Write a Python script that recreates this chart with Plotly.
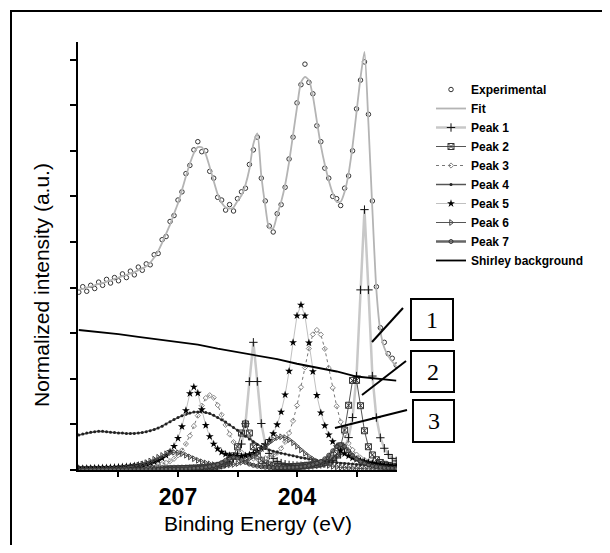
import plotly.graph_objects as go

# Binding-energy grid (eV), high -> low
be = [209.5, 209.4, 209.3, 209.2, 209.1, 209.0, 208.9, 208.8, 208.7, 208.6,
      208.5, 208.4, 208.3, 208.2, 208.1, 208.0, 207.9, 207.8, 207.7, 207.6,
      207.5, 207.4, 207.3, 207.2, 207.1, 207.0, 206.9, 206.8, 206.7, 206.6,
      206.5, 206.4, 206.3, 206.2, 206.1, 206.0, 205.9, 205.8, 205.7, 205.6,
      205.5, 205.4, 205.3, 205.2, 205.1, 205.0, 204.9, 204.8, 204.7, 204.6,
      204.5, 204.4, 204.3, 204.2, 204.1, 204.0, 203.9, 203.8, 203.7, 203.6,
      203.5, 203.4, 203.3, 203.2, 203.1, 203.0, 202.9, 202.8, 202.7, 202.6,
      202.5, 202.4, 202.3, 202.2, 202.1, 202.0, 201.9, 201.8, 201.7, 201.6,
      201.5]

experimental = [3.90, 4.02, 3.92, 4.05, 3.98, 4.12, 4.05, 4.18, 4.10, 4.22,
                4.15, 4.30, 4.22, 4.36, 4.28, 4.45, 4.38, 4.52, 4.50, 4.72,
                4.75, 5.05, 5.12, 5.45, 5.58, 5.92, 6.10, 6.50, 6.68, 7.02,
                7.20, 6.98, 7.00, 6.55, 6.40, 5.98, 5.92, 5.70, 5.82, 5.68,
                5.95, 6.10, 6.18, 6.70, 7.02, 7.30, 6.40, 5.90, 5.35, 5.22,
                5.62, 5.82, 6.20, 6.82, 7.30, 8.05, 8.45, 8.90, 8.50, 8.25,
                7.55, 7.20, 6.62, 6.40, 6.00, 5.95, 5.80, 6.18, 6.45, 7.00,
                7.92, 8.55, 8.95, 7.80, 5.90, 4.02, 3.12, 2.80, 2.55, 2.45,
                2.30]

fit = [3.95, 3.97, 4.00, 4.02, 4.05, 4.08, 4.10, 4.13, 4.16, 4.19,
       4.22, 4.25, 4.28, 4.31, 4.34, 4.38, 4.42, 4.47, 4.55, 4.66,
       4.80, 4.98, 5.18, 5.38, 5.62, 5.85, 6.14, 6.44, 6.72, 6.95,
       7.08, 7.08, 6.92, 6.64, 6.34, 6.05, 5.86, 5.76, 5.73, 5.76,
       5.90, 6.02, 6.25, 6.60, 7.15, 7.38, 6.45, 5.80, 5.30, 5.30,
       5.60, 5.88, 6.25, 6.75, 7.35, 7.95, 8.50, 8.62, 8.55, 8.20,
       7.65, 7.12, 6.70, 6.35, 6.07, 5.88, 5.88, 6.10, 6.50, 7.10,
       7.85, 8.60, 9.17, 7.60, 5.70, 3.95, 3.05, 2.68, 2.50, 2.38,
       2.28]

peak1 = [.006, .006, .006, .007, .007, .007, .007, .008, .008, .008,
         .008, .009, .009, .010, .010, .011, .012, .013, .014, .015,
         .016, .017, .019, .020, .021, .023, .025, .028, .031, .035,
         .039, .044, .051, .059, .070, .084, .105, .132, .174, .242,
         .355, .569, 1.014, 1.94, 2.80, 1.94, 1.02, .577, .364, .254,
         .189, .151, .126, .110, .100, .095, .093, .092, .095, .102,
         .112, .125, .144, .171, .21, .264, .348, .483, .711, 1.15,
         2.06, 3.95, 5.71, 3.95, 2.06, 1.15, .707, .477, .341, .255,
         .199]

peak2 = [.007, .007, .007, .008, .008, .008, .009, .009, .009, .010,
         .010, .011, .011, .012, .012, .013, .014, .015, .016, .017,
         .018, .020, .022, .024, .025, .027, .030, .033, .037, .040,
         .043, .048, .054, .062, .070, .090, .11, .15, .21, .31,
         .51, .81, 1.01, .81, .51, .31, .21, .15, .11, .09,
         .08, .075, .07, .07, .075, .08, .085, .095, .105, .115,
         .125, .14, .165, .20, .26, .355, .53, .875, 1.42, 1.965,
         1.965, 1.41, .86, .51, .33, .225, .165, .125, .10, .082,
         .068]

peak3 = [.025, .026, .027, .029, .030, .032, .034, .036, .039, .041,
         .044, .047, .051, .055, .060, .065, .071, .078, .087, .099,
         .113, .131, .156, .193, .246, .323, .429, .571, .751, .963,
         1.192, 1.411, 1.578, 1.640, 1.585, 1.424, 1.211, .989, .784, .613,
         .479, .384, .316, .274, .251, .242, .247, .258, .281, .319,
         .380, .476, .616, .811, 1.078, 1.415, 1.815, 2.248, 2.663, 2.974,
         3.07, 2.971, 2.657, 2.238, 1.801, 1.398, 1.056, .785, .585, .44,
         .337, .269, .223, .188, .164, .141, .126, .113, .102, .094,
         .085]

peak4 = [.77, .79, .81, .83, .84, .85, .85, .84, .83, .82,
         .81, .81, .80, .80, .80, .81, .82, .84, .86, .89,
         .92, .96, 1.01, 1.06, 1.11, 1.15, 1.19, 1.22, 1.25, 1.27,
         1.27, 1.27, 1.26, 1.24, 1.20, 1.15, 1.10, 1.05, .99, .93,
         .87, .81, .74, .68, .62, .56, .51, .47, .44, .41,
         .39, .37, .35, .33, .31, .29, .27, .26, .24, .23,
         .21, .20, .19, .18, .17, .16, .15, .14, .135, .13,
         .12, .115, .11, .105, .10, .095, .09, .085, .08, .075,
         .07]

peak5 = [.034, .036, .038, .041, .043, .046, .049, .052, .056, .061,
         .066, .072, .078, .086, .095, .107, .120, .137, .157, .183,
         .216, .26, .319, .403, .521, .696, .951, 1.304, 1.678, 1.82,
         1.688, 1.323, .98, .735, .571, .464, .393, .348, .319, .304,
         .299, .303, .316, .337, .368, .411, .469, .548, .654, .797,
         .994, 1.273, 1.65, 2.168, 2.796, 3.384, 3.62, 3.38, 2.789, 2.158,
         1.637, 1.256, .973, .771, .623, .511, .426, .361, .309, .268,
         .235, .206, .183, .164, .147, .134, .121, .111, .101, .093,
         .086]

peak6 = [.016, .017, .018, .020, .021, .023, .025, .028, .031, .035,
         .041, .048, .057, .069, .086, .106, .132, .162, .198, .237,
         .279, .319, .355, .379, .389, .379, .357, .324, .287, .248,
         .212, .180, .154, .133, .117, .107, .102, .104, .110, .122,
         .141, .169, .205, .252, .307, .374, .448, .526, .601, .667,
         .712, .728, .711, .664, .597, .52, .44, .366, .297, .24,
         .19, .152, .121, .098, .08, .067, .057, .05, .044, .039,
         .035, .032, .029, .027, .025, .023, .021, .020, .018, .017,
         .016]

peak7 = [.004, .004, .004, .005, .005, .005, .005, .005, .006, .006,
         .006, .007, .007, .007, .008, .008, .009, .009, .010, .011,
         .012, .013, .015, .016, .018, .020, .022, .025, .029, .034,
         .040, .049, .060, .075, .095, .124, .163, .212, .258, .279,
         .26, .214, .167, .13, .103, .084, .071, .061, .055, .052,
         .050, .050, .050, .054, .057, .063, .071, .082, .098, .118,
         .147, .188, .245, .323, .42, .514, .554, .513, .419, .32,
         .243, .184, .143, .113, .091, .075, .062, .053, .045, .040,
         .035]

shirley_be = [209.5, 209.0, 208.5, 208.0, 207.5, 207.0, 206.5, 206.0, 205.5,
              205.0, 204.5, 204.0, 203.5, 203.0, 202.5, 202.0, 201.5]
shirley = [3.07, 3.03, 2.98, 2.92, 2.86, 2.80, 2.75, 2.66, 2.58,
           2.50, 2.43, 2.33, 2.25, 2.16, 2.05, 2.00, 1.96]

x_tickvals = [208.5, 207, 205.5, 204, 202.5]
x_ticktext = ["", "207", "", "204", ""]
y_tickvals = [0, 1, 2, 3, 4, 5, 6, 7, 8, 9]

SANS = "Liberation Sans, Arial, sans-serif"
SERIF = "Liberation Serif, Times New Roman, serif"

fig = go.Figure()

fig.add_trace(go.Scatter(x=be, y=experimental, name="Experimental", mode="markers",
                         marker=dict(symbol="circle-open", size=4.5, color="#333333",
                                     line=dict(width=1))))
fig.add_trace(go.Scatter(x=be, y=fit, name="Fit", mode="lines",
                         line=dict(color="#b4b4b4", width=1.8, shape="spline", smoothing=0.6)))
fig.add_trace(go.Scatter(x=be, y=peak1, name="Peak 1", mode="lines+markers",
                         line=dict(color="#c8c8c8", width=2.5),
                         marker=dict(symbol="cross-thin-open", size=6, color="#111111",
                                     line=dict(width=1, color="#111111"))))
fig.add_trace(go.Scatter(x=be, y=peak2, name="Peak 2", mode="lines+markers",
                         line=dict(color="#555555", width=1),
                         marker=dict(symbol="square-x-open", size=6, color="#333333",
                                     line=dict(width=1, color="#333333"))))
fig.add_trace(go.Scatter(x=be, y=peak3, name="Peak 3", mode="lines+markers",
                         line=dict(color="#777777", width=1, dash="dot"),
                         marker=dict(symbol="diamond-open", size=4, color="#888888",
                                     line=dict(width=1, color="#888888"))))
fig.add_trace(go.Scatter(x=be, y=peak4, name="Peak 4", mode="lines+markers",
                         line=dict(color="#555555", width=1.5),
                         marker=dict(symbol="circle", size=3, color="#222222")))
fig.add_trace(go.Scatter(x=be, y=peak5, name="Peak 5", mode="lines+markers",
                         line=dict(color="#c0c0c0", width=1),
                         marker=dict(symbol="star", size=6, color="#000000")))
fig.add_trace(go.Scatter(x=be, y=peak6, name="Peak 6", mode="lines+markers",
                         line=dict(color="#555555", width=1),
                         marker=dict(symbol="triangle-right-open", size=5, color="#444444",
                                     line=dict(width=1, color="#444444"))))
fig.add_trace(go.Scatter(x=be, y=peak7, name="Peak 7", mode="lines+markers",
                         line=dict(color="#666666", width=2.5),
                         marker=dict(symbol="circle-open", size=4, color="#333333",
                                     line=dict(width=1, color="#333333"))))
fig.add_trace(go.Scatter(x=shirley_be, y=shirley, name="Shirley background", mode="lines",
                         line=dict(color="#000000", width=1.8)))


# helpers: screen pixel (in the 610x553 window) -> paper coordinates
def px(xp):
    return (xp - 78) / 319.0


def py(yp):
    return (470 - yp) / 428.0


shapes = [
    # outer frame: only top and left edges are visible in the picture
    dict(type="line", xref="paper", yref="paper", x0=px(10), x1=px(700), y0=py(11), y1=py(11),
         line=dict(color="black", width=2)),
    dict(type="line", xref="paper", yref="paper", x0=px(11), x1=px(11), y0=py(10), y1=py(700),
         line=dict(color="black", width=2)),
    # numbered boxes
    dict(type="rect", xref="paper", yref="paper", x0=px(411), x1=px(453), y0=py(340), y1=py(299),
         line=dict(color="black", width=2)),
    dict(type="rect", xref="paper", yref="paper", x0=px(411), x1=px(454), y0=py(392), y1=py(351),
         line=dict(color="black", width=2)),
    dict(type="rect", xref="paper", yref="paper", x0=px(413), x1=px(454), y0=py(442), y1=py(400),
         line=dict(color="black", width=2)),
    # pointer lines
    dict(type="line", xref="paper", yref="paper", x0=px(403), y0=py(308), x1=px(372), y1=py(342),
         line=dict(color="black", width=2)),
    dict(type="line", xref="paper", yref="paper", x0=px(406), y0=py(361), x1=px(362), y1=py(395),
         line=dict(color="black", width=2)),
    dict(type="line", xref="paper", yref="paper", x0=px(407), y0=py(410), x1=px(335), y1=py(428),
         line=dict(color="black", width=2)),
]

annotations = [
    dict(text="Binding Energy (eV)", xref="paper", yref="paper", x=px(258), y=py(523),
         showarrow=False, font=dict(family=SANS, size=21, color="black"),
         xanchor="center", yanchor="middle"),
    dict(text="Normalized intensity (a.u.)", xref="paper", yref="paper", x=px(41), y=py(285),
         showarrow=False, textangle=-90, font=dict(family=SANS, size=21, color="black"),
         xanchor="center", yanchor="middle"),
    dict(text="1", xref="paper", yref="paper", x=px(432), y=py(320), showarrow=False,
         font=dict(family=SERIF, size=24, color="black"), xanchor="center", yanchor="middle"),
    dict(text="2", xref="paper", yref="paper", x=px(432.5), y=py(372), showarrow=False,
         font=dict(family=SERIF, size=24, color="black"), xanchor="center", yanchor="middle"),
    dict(text="3", xref="paper", yref="paper", x=px(433.5), y=py(421), showarrow=False,
         font=dict(family=SERIF, size=24, color="black"), xanchor="center", yanchor="middle"),
]

# The page body adds an 8 px margin, so the figure is 16 px smaller than the
# window and all positions are shifted by 8 px.
fig.update_layout(
    width=594, height=537,
    margin=dict(l=70, r=205, t=34, b=75),
    paper_bgcolor="white", plot_bgcolor="white",
    showlegend=True,
    legend=dict(x=px(431), y=py(75), xanchor="left", yanchor="top",
                font=dict(family=SANS, size=12, color="black", weight="bold"),
                bgcolor="rgba(0,0,0,0)", borderwidth=0, tracegroupgap=0),
    shapes=shapes,
    annotations=annotations,
    xaxis=dict(range=[209.52, 201.48], tickvals=x_tickvals, ticktext=x_ticktext,
               ticks="outside", ticklen=5, tickwidth=1.5, tickcolor="black",
               showline=True, linewidth=2, linecolor="black", showgrid=False, zeroline=False,
               tickfont=dict(family=SANS, size=23, color="black", weight="bold")),
    yaxis=dict(range=[0, 9.386], tickvals=y_tickvals, showticklabels=False,
               ticks="outside", ticklen=6, tickwidth=1.5, tickcolor="black",
               showline=True, linewidth=2, linecolor="black", showgrid=False, zeroline=False),
)

fig.write_html("out.html")
